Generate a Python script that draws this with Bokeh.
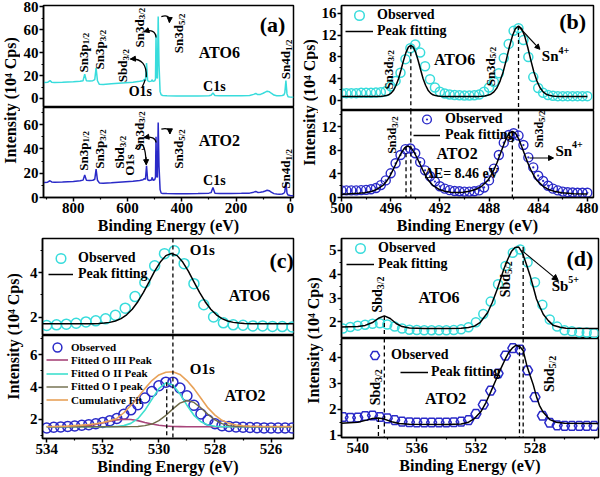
from math import pi
from bokeh.plotting import figure
from bokeh.layouts import row, column
from bokeh.models import Range1d, FixedTicker, Label, Legend, LegendItem, Arrow, NormalHead
from bokeh.core.properties import value
from bokeh.embed import file_html
from bokeh.resources import INLINE

# ================= DATA =================
# (a) survey spectra
survey_E = [908, 895, 886, 880, 870, 840, 800, 775, 764, 758, 752, 740, 728, 721, 716, 711, 704, 690,
            660, 620, 580, 555, 543, 538, 534, 530, 526, 520, 512, 509, 506, 500, 497, 495, 493, 490,
            487, 484, 480, 476, 470, 455, 420, 380, 340, 300, 292, 285, 278, 260, 220, 180, 150, 135,
            127, 120, 110, 100, 92, 85, 78, 70, 60, 50, 40, 30, 24, 20, 16, 12, 8, 0, -12]
survey_ATO6 = [14.0, 14.2, 15.6, 14.3, 14.0, 14.2, 14.6, 15.0, 15.6, 21.2, 15.6, 15.4, 15.6, 16.5, 26.8, 15.5, 12.4, 12.2,
               12.8, 13.6, 14.3, 15.0, 15.6, 16.8, 15.8, 31.0, 15.6, 14.8, 15.2, 16.4, 15.0, 15.4, 17.0, 56.0, 20.0, 17.5,
               71.6, 30.0, 6.0, 3.2, 2.6, 2.4, 2.2, 2.2, 2.2, 2.5, 2.8, 4.8, 2.6, 2.3, 2.3, 2.4, 2.6, 3.6,
               4.4, 3.4, 3.6, 4.6, 5.6, 6.4, 6.0, 4.6, 3.0, 2.4, 2.3, 2.6, 3.0, 5.0, 15.6, 4.0, 1.6, 1.2, 1.0]
survey_ATO2 = [12.4, 12.6, 13.8, 12.8, 12.6, 12.8, 13.2, 13.8, 14.3, 18.6, 14.3, 14.0, 14.2, 15.0, 23.4, 14.2, 12.0, 11.8,
               12.1, 12.7, 13.3, 14.0, 14.6, 15.6, 15.0, 26.0, 14.6, 14.0, 14.4, 16.6, 14.2, 14.6, 16.6, 50.0, 18.0, 16.5,
               61.7, 26.0, 6.5, 3.6, 3.3, 3.2, 3.1, 3.1, 3.2, 3.6, 4.0, 8.2, 3.6, 3.3, 3.3, 3.4, 3.6, 4.4,
               5.0, 4.2, 4.3, 4.8, 5.4, 6.0, 5.6, 4.4, 3.2, 2.8, 2.7, 2.9, 3.4, 4.6, 12.9, 3.6, 2.0, 1.6, 1.4]

# (b) Sn 3d
sn3d_E = [500.0, 499.6, 499.2, 498.8, 498.4, 498.0, 497.6, 497.2, 496.8, 496.4, 496.0, 495.6, 495.2, 494.8,
          494.4, 494.0, 493.6, 493.2, 492.8, 492.4, 492.0, 491.6, 491.2, 490.8, 490.4, 490.0, 489.6, 489.2,
          488.8, 488.4, 488.0, 487.6, 487.2, 486.8, 486.4, 486.0, 485.6, 485.2, 484.8, 484.4, 484.0, 483.6,
          483.2, 482.8, 482.4, 482.0, 481.6, 481.2, 480.8, 480.4, 480.0]
sn3d_obs_ATO6 = [1.35, 1.35, 1.35, 1.35, 1.4, 1.4, 1.4, 1.45, 1.5, 1.7, 2.6, 3.6, 5.1, 7.6,
                 9.6, 10.3, 8.8, 6.3, 3.9, 2.4, 1.6, 1.3, 1.1, 1.0, 0.95, 0.9, 0.9, 0.95,
                 1.1, 1.6, 2.4, 3.4, 5.0, 7.8, 10.4, 12.8, 13.3, 11.1, 8.0, 4.3, 2.3, 1.4,
                 1.0, 0.85, 0.8, 0.8, 0.8, 0.8, 0.8, 0.8, 0.8]
sn3d_obs_ATO2 = [1.2, 1.2, 1.2, 1.2, 1.25, 1.3, 1.4, 1.6, 2.1, 2.9, 4.1, 5.8, 7.2, 8.2,
                 8.3, 7.5, 6.0, 4.6, 3.6, 2.7, 1.9, 1.5, 1.25, 1.1, 1.05, 1.0, 1.0, 1.05,
                 1.2, 1.7, 2.9, 4.9, 7.2, 9.3, 10.6, 10.9, 10.5, 8.9, 6.8, 5.1, 3.7, 2.8,
                 2.0, 1.5, 1.2, 1.0, 0.9, 0.85, 0.8, 0.8, 0.8]
sn3d_fit_ATO6_E = [500.0, 497.0, 496.76, 496.56, 496.36, 496.16, 495.96, 495.76, 495.56, 495.36, 495.16, 494.96,
                   494.76, 494.56, 494.36, 494.16, 493.96, 493.76, 493.56, 493.36, 493.16, 492.96, 492.76, 492.56,
                   492.36, 492.16, 491.96, 491.76,
                   488.85, 488.6, 488.35, 488.1, 487.85, 487.6, 487.35, 487.1, 486.85, 486.6, 486.35, 486.1,
                   485.85, 485.6, 485.35, 485.1, 484.85, 484.6, 484.35, 484.1, 483.85, 483.6, 483.35, 483.1,
                   482.85, 482.6, 482.35, 480.0]
sn3d_fit_ATO6 = [0.75, 0.75, 0.78, 0.82, 0.9, 1.05, 1.35, 1.9, 2.8, 4.0, 5.6, 7.3,
                 8.8, 9.8, 10.15, 9.8, 8.8, 7.3, 5.6, 4.0, 2.8, 1.9, 1.35, 1.05,
                 0.9, 0.82, 0.78, 0.75,
                 0.75, 0.79, 0.84, 0.96, 1.16, 1.58, 2.33, 3.57, 5.23, 7.43, 9.78, 11.84,
                 13.22, 13.7, 13.22, 11.84, 9.78, 7.43, 5.23, 3.57, 2.33, 1.58, 1.16, 0.96,
                 0.84, 0.79, 0.75, 0.75]
sn3d_fit_ATO2_E = [500.0, 499.6, 498.6, 498.1, 497.6, 497.1, 496.6, 496.35, 496.1, 495.85, 495.6, 495.35,
                   495.1, 494.85, 494.6, 494.35, 494.1, 493.85, 493.6, 493.35, 493.1, 492.85, 492.6, 492.1,
                   491.6, 491.1, 490.6, 490.1, 489.6, 489.1, 488.6, 488.1, 487.85, 487.6, 487.35, 487.1,
                   486.85, 486.6, 486.35, 486.1, 485.85, 485.6, 485.35, 485.1, 484.85, 484.6, 484.35, 484.1,
                   483.6, 483.1, 482.6, 482.1, 481.1, 480.0]
sn3d_fit_ATO2 = [0.55, 0.6, 0.7, 0.8, 1.0, 1.4, 2.1, 2.7, 3.5, 4.5, 5.6, 6.7,
                 7.7, 8.45, 8.7, 8.45, 7.7, 6.7, 5.6, 4.5, 3.5, 2.7, 2.1, 1.4,
                 1.05, 0.9, 0.85, 0.9, 1.05, 1.35, 1.9, 2.9, 3.7, 4.7, 5.9, 7.3,
                 8.7, 10.0, 10.9, 11.2, 10.9, 10.0, 8.7, 7.3, 5.9, 4.7, 3.7, 2.9,
                 1.9, 1.3, 1.0, 0.8, 0.65, 0.6]
sn3d_peak_E_ATO6 = [494.36, 485.6]
sn3d_peak_I_ATO6 = [10.15, 13.7]
sn3d_peak_E_ATO2 = [494.75, 486.1]
sn3d_peak_I_ATO2 = [8.7, 11.2]

# (c) O 1s
o1s_E_ATO6 = [534.0, 533.65, 533.3, 532.95, 532.6, 532.25, 531.9, 531.55, 531.2, 530.85, 530.5, 530.15, 529.8,
              529.45, 529.1, 528.75, 528.4, 528.05, 527.7, 527.35, 527.0, 526.65, 526.3, 525.95, 525.6, 525.25]
o1s_obs_ATO6 = [1.62, 1.65, 1.68, 1.72, 1.78, 1.83, 1.92, 2.08, 2.4, 2.92, 3.55, 4.3, 4.85,
                4.98, 4.4, 3.5, 2.55, 2.0, 1.74, 1.65, 1.63, 1.6, 1.6, 1.58, 1.57, 1.55]
o1s_fit_ATO6_E = [534.15, 532.35, 532.15, 531.95, 531.75, 531.55, 531.35, 531.15, 530.95, 530.75, 530.55,
                  530.35, 530.15, 529.95, 529.75, 529.55, 529.35, 529.15, 528.95, 528.75, 528.55, 528.35,
                  528.15, 527.95, 527.75, 527.55, 527.35, 527.15, 526.95, 526.75, 525.2]
o1s_fit_ATO6 = [1.70, 1.70, 1.71, 1.73, 1.76, 1.82, 1.93, 2.10, 2.35, 2.69, 3.11,
                3.58, 4.06, 4.47, 4.76, 4.86, 4.76, 4.47, 4.06, 3.58, 3.11, 2.69,
                2.35, 2.10, 1.93, 1.82, 1.76, 1.73, 1.71, 1.70, 1.70]
o1s_E_ATO2 = [534.0, 533.75, 533.5, 533.25, 533.0, 532.75, 532.5, 532.25, 532.0, 531.75, 531.5, 531.25,
              531.0, 530.75, 530.5, 530.25, 530.0, 529.75, 529.5, 529.25, 529.0, 528.75, 528.5, 528.25,
              528.0, 527.75, 527.5, 527.25, 527.0, 526.75, 526.5, 526.25, 526.0, 525.75, 525.5, 525.25]
o1s_obs_ATO2 = [1.45, 1.5, 1.52, 1.55, 1.58, 1.62, 1.66, 1.72, 1.8, 1.9, 2.04, 2.3,
                2.58, 2.9, 3.32, 3.72, 4.08, 4.3, 4.3, 3.94, 3.45, 2.86, 2.32, 1.95,
                1.72, 1.6, 1.55, 1.52, 1.5, 1.48, 1.47, 1.46, 1.46, 1.45, 1.45, 1.45]
o1s_OIII = [1.53, 1.53, 1.53, 1.535, 1.545, 1.565, 1.61, 1.68, 1.77, 1.87, 1.96, 2.0,
            1.98, 1.91, 1.80, 1.70, 1.62, 1.575, 1.55, 1.54, 1.53, 1.53, 1.53, 1.53,
            1.53, 1.53, 1.53, 1.53, 1.53, 1.53, 1.53, 1.53, 1.53, 1.53, 1.53, 1.53]
o1s_OII = [1.53, 1.53, 1.53, 1.53, 1.53, 1.53, 1.53, 1.53, 1.53, 1.535, 1.55, 1.6,
           1.74, 2.03, 2.55, 3.23, 3.9, 4.26, 4.13, 3.58, 2.87, 2.24, 1.84, 1.64,
           1.565, 1.54, 1.53, 1.53, 1.53, 1.53, 1.53, 1.53, 1.53, 1.53, 1.53, 1.53]
o1s_OI = [1.53, 1.53, 1.53, 1.53, 1.53, 1.53, 1.53, 1.53, 1.53, 1.53, 1.53, 1.53,
          1.535, 1.55, 1.6, 1.7, 1.91, 2.24, 2.64, 3.0, 3.16, 3.04, 2.7, 2.3,
          1.95, 1.72, 1.6, 1.55, 1.535, 1.53, 1.53, 1.53, 1.53, 1.53, 1.53, 1.53]
o1s_cumulative = [1.55, 1.55, 1.56, 1.57, 1.6, 1.63, 1.67, 1.72, 1.79, 1.9, 2.05, 2.4,
                  2.85, 3.35, 3.9, 4.4, 4.75, 4.92, 4.95, 4.78, 4.4, 3.9, 3.3, 2.7,
                  2.25, 1.93, 1.74, 1.64, 1.59, 1.57, 1.56, 1.55, 1.55, 1.55, 1.55, 1.55]
o1s_peak_E_ATO6 = [529.5]
o1s_peak_E_ATO2 = [529.72]
o1s_peak_I_ATO2 = [4.3]

# (d) Sb 3d
sb_E = [541.0, 540.5, 540.0, 539.5, 539.0, 538.5, 538.0, 537.5, 537.0, 536.5, 536.0, 535.5, 535.0, 534.5,
        534.0, 533.5, 533.0, 532.5, 532.0, 531.5, 531.0, 530.5, 530.0, 529.5, 529.0, 528.5, 528.0, 527.5,
        527.0, 526.5, 526.0, 525.5, 525.0, 524.5, 524.0]
sb_obs_ATO6 = [1.72, 1.78, 1.84, 1.88, 1.92, 1.94, 1.89, 1.8, 1.72, 1.67, 1.66, 1.65, 1.65, 1.65,
               1.65, 1.66, 1.69, 1.77, 1.98, 2.33, 2.85, 3.58, 4.35, 4.9, 5.04, 4.5, 3.66, 2.72,
               2.1, 1.8, 1.65, 1.6, 1.56, 1.55, 1.52]
sb_obs_ATO2 = [1.7, 1.67, 1.68, 1.74, 1.76, 1.7, 1.65, 1.58, 1.52, 1.5, 1.49, 1.49, 1.49, 1.49,
               1.49, 1.5, 1.52, 1.58, 1.82, 2.18, 2.72, 3.38, 4.07, 4.36, 4.3, 3.5, 2.47, 1.75,
               1.48, 1.38, 1.36, 1.36, 1.36, 1.36, 1.36]
sb_fit_ATO6_E = [541.1, 540.0, 539.5, 539.0, 538.6, 538.2, 537.8, 537.4, 537.0, 536.5, 535.5, 534.0, 533.0,
                 532.5, 532.1, 531.7, 531.2, 530.9, 530.55, 530.3, 530.1, 529.85, 529.6, 529.35, 529.1,
                 528.85, 528.6, 528.33, 528.1, 527.9, 527.65, 527.44, 527.1, 526.78, 526.3, 525.9, 523.7]
sb_fit_ATO6 = [1.78, 1.8, 1.85, 1.97, 2.15, 2.25, 2.14, 1.93, 1.8, 1.74, 1.72, 1.72, 1.73,
               1.76, 1.82, 1.98, 2.39, 2.8, 3.38, 3.85, 4.23, 4.62, 4.95, 5.12, 5.14,
               4.9, 4.45, 3.94, 3.42, 2.96, 2.6, 2.32, 2.05, 1.86, 1.77, 1.73, 1.72]
sb_fit_ATO2_E = [541.1, 540.0, 539.4, 539.0, 538.6, 538.2, 537.7, 537.2, 536.5, 534.0, 533.0, 532.5, 532.1,
                 531.67, 531.33, 531.0, 530.67, 530.33, 530.0, 529.78, 529.5, 529.27, 529.0, 528.8, 528.56,
                 528.33, 528.12, 527.88, 527.7, 527.44, 527.0, 526.56, 526.0, 523.7]
sb_fit_ATO2 = [1.46, 1.5, 1.58, 1.64, 1.66, 1.62, 1.52, 1.45, 1.42, 1.41, 1.43, 1.5, 1.64,
               1.9, 2.25, 2.66, 3.1, 3.55, 3.95, 4.19, 4.38, 4.47, 4.4, 4.26, 3.7,
               3.3, 2.95, 2.45, 2.15, 1.88, 1.6, 1.5, 1.46, 1.45]
sb_peak_E_ATO6 = [538.2, 528.8]
sb_peak_I_ATO6 = [2.25, 5.14]
sb_peak_E_ATO2 = [538.6, 529.05]
sb_peak_I_ATO2 = [1.66, 4.47]

# ================= STYLE / HELPERS =================
SERIF = "Liberation Serif"
CYAN = "#38DCDC"
BLUE = "#2A2AC8"
PURPLE = "#A8457A"
TEAL = "#3FE0CF"
OLIVE = "#6E6A48"
ORANGE = "#E8A259"
YTITLE = "Intensity (10\u2074 Cps)"
CW = {'S': .556, 'n': .556, 'b': .556, 'd': .556, 'p': .556, '/': .278, '+': .570}


def tw(s, size):
    return sum(CW.get(c, .5) for c in s) * size


def panel_fig(w, h, xr, yr, bl, br, bt, bb, xaxis, yticks, yminor, xticks=None, xminor=None):
    p = figure(width=w, height=h, x_range=Range1d(*xr), y_range=Range1d(*yr),
               output_backend="svg", toolbar_location=None, title=None,
               min_border_left=bl, min_border_right=br, min_border_top=bt, min_border_bottom=bb,
               x_axis_location="below" if xaxis else None, y_axis_location="left",
               background_fill_color="white", border_fill_color="white",
               outline_line_color="black", outline_line_width=1.5)
    p.grid.visible = False
    axes = list(p.yaxis) + (list(p.xaxis) if xaxis else [])
    for ax in axes:
        ax.axis_line_width = 1.5
        ax.axis_line_color = "black"
        ax.major_tick_line_width = 1.5
        ax.major_tick_out = 4
        ax.major_tick_in = 0
        ax.minor_tick_line_width = 1.2
        ax.minor_tick_out = 2
        ax.minor_tick_in = 0
        ax.major_label_text_font = SERIF
        ax.major_label_text_font_style = "bold"
        ax.major_label_text_font_size = "15px"
        ax.major_label_text_color = "black"
        ax.major_label_standoff = 1
    p.yaxis[0].ticker = FixedTicker(ticks=yticks, minor_ticks=yminor)
    if xaxis:
        xa = p.xaxis[0]
        xa.ticker = FixedTicker(ticks=xticks, minor_ticks=xminor)
        xa.axis_label = "Binding Energy (eV)"
        xa.axis_label_text_font = SERIF
        xa.axis_label_text_font_style = "bold"
        xa.axis_label_text_font_size = "16px"
        xa.axis_label_text_color = "black"
        xa.axis_label_standoff = 1
    return p


def title_fig(w, h, yc):
    t = figure(width=w, height=h, x_range=Range1d(0, w), y_range=Range1d(h, 0),
               output_backend="svg", toolbar_location=None, title=None, min_border=0,
               x_axis_location=None, y_axis_location=None, outline_line_color=None,
               background_fill_color="white", border_fill_color="white")
    t.grid.visible = False
    t.add_layout(Label(x=w / 2, y=yc, text=YTITLE, angle=pi / 2, text_align="center",
                       text_baseline="middle", text_font=SERIF, text_font_style="bold",
                       text_font_size="16px", text_color="black"))
    return t


def txt(p, x, y, s, size=15, align="center", angle=0.0, xo=0, yo=0):
    p.add_layout(Label(x=x, y=y, text=s, angle=angle, x_offset=xo, y_offset=yo,
                       text_align=align, text_baseline="middle", text_font=SERIF,
                       text_font_style="bold", text_font_size=f"{size}px", text_color="black"))


def vlab(p, x, y, main, sub, size=13, sub_size=9):
    txt(p, x, y, main, size, align="left", angle=pi / 2)
    txt(p, x, y, sub, sub_size, align="left", angle=pi / 2, xo=3, yo=tw(main, size))


def suplab(p, x, y, main, sup, size=15, sup_size=10):
    txt(p, x, y, main, size, align="left")
    txt(p, x, y, sup, sup_size, align="left", xo=tw(main, size), yo=6)


def arrow(p, xs, ys, xe, ye, size=6):
    p.add_layout(Arrow(x_start=xs, y_start=ys, x_end=xe, y_end=ye, line_width=1.1, line_color="black",
                       end=NormalHead(size=size, fill_color="black", line_color="black", line_width=1)))


def curve(p, s, c, e, head=True):
    p.quadratic(x0=[s[0]], y0=[s[1]], x1=[e[0]], y1=[e[1]], cx=[c[0]], cy=[c[1]],
                line_color="black", line_width=1.3)
    if head:
        xs = e[0] - 0.25 * (e[0] - c[0])
        ys = e[1] - 0.25 * (e[1] - c[1])
        arrow(p, xs, ys, e[0], e[1], size=5)


def dashes(p, x, y0, y1):
    p.segment(x0=x, y0=y0, x1=x, y1=y1, line_color="black", line_width=1.3, line_dash="4 3")


def leg(p, label, r, left, row_y, frame_bottom, glyph_w, h=24, size=14, standoff=4):
    # one legend entry; location = bottom-left corner in px from the frame's bottom-left
    lg = Legend(items=[LegendItem(label=value(label), renderers=[r])],
                location=(left, frame_bottom - (row_y + h / 2)), orientation="vertical",
                padding=0, margin=0, spacing=0, glyph_width=glyph_w, glyph_height=h, label_height=h,
                label_standoff=standoff, label_text_font=SERIF, label_text_font_style="bold",
                label_text_font_size=f"{size}px", label_text_color="black",
                background_fill_alpha=0, border_line_alpha=0)
    p.add_layout(lg)


# ================= PANEL (a) =================
ax_r = (910, -12)
a_top = panel_fig(280, 107, ax_r, (-7.87, 81.3), 20, 7, 5, 0, False, [0, 20, 40, 60, 80], [10, 30, 50, 70])
a_bot = panel_fig(280, 129, ax_r, (0, 74.1), 20, 7, 0, 39, True, [0, 20, 40, 60], [10, 30, 50, 70],
                  [800, 600, 400, 200, 0], [900, 700, 500, 300, 100])
a_top.line(survey_E, survey_ATO6, line_color=CYAN, line_width=1.5)
a_bot.line(survey_E, survey_ATO2, line_color=BLUE, line_width=1.5)

txt(a_top, 65, 64.8, "(a)", 22)
txt(a_top, 261.6, 40.4, "ATO6", 16)
vlab(a_top, 764.3, 22.7, "Sn3p", "1/2")
vlab(a_top, 702.3, 25.3, "Sn3p", "3/2")
vlab(a_top, 618.6, 14.3, "Sbd", "3/2")
vlab(a_top, 556.6, 44.6, "Sn3d", "3/2")
vlab(a_top, 411, 39.6, "Sn3d", "5/2")
vlab(a_top, 17.5, 16.8, "Sn4d", "1/2")
txt(a_top, 553, 5.9, "O1s", 14)
txt(a_top, 279.8, 10.9, "C1s", 14)
curve(a_top, (531, 18.5), (527.5, 35.4), (589.4, 34.5))
curve(a_top, (494.7, 53.3), (498.4, 61.5), (539.5, 58.4))
curve(a_top, (475.4, 71.6), (443.7, 74.1), (445.5, 66.5))
curve(a_top, (546, 10), (538, 14), (535, 16.5), head=False)

txt(a_bot, 261.6, 46.7, "ATO2", 16)
vlab(a_bot, 764.3, 22, "Sn3p", "1/2")
vlab(a_bot, 702.3, 23.6, "Sn3p", "3/2")
vlab(a_bot, 629.5, 23.6, "Sbd", "3/2")
txt(a_bot, 593, 17.9, "O1s", 13, align="left", angle=pi / 2)
vlab(a_bot, 556.6, 38.4, "Sn3d", "3/2")
vlab(a_bot, 411, 23.6, "Sn3d", "5/2")
txt(a_bot, 280, 13.7, "C1s", 14)
vlab(a_bot, 17.5, 7.2, "Sn4d", "1/2")
curve(a_bot, (571, 40), (535, 52), (531, 27))
curve(a_bot, (494.7, 45.3), (498.4, 50.8), (539.5, 49.4))
curve(a_bot, (475.4, 56.3), (443.7, 58.2), (443.7, 52.4))

panel_a = row(title_fig(20, 236, 100), column(a_top, a_bot))

# ================= PANEL (b) =================
bx_r = (500, 479.5)
b_top_y = (-1.84, 17.46)
b_bot_y = (0, 14.75)
b_top = panel_fig(282, 110, bx_r, b_top_y, 20, 7, 5, 0, False, [0, 4, 8, 12, 16], [2, 6, 10, 14])
b_bot = panel_fig(282, 126, bx_r, b_bot_y, 20, 7, 0, 36, True, [0, 4, 8, 12], [2, 6, 10, 14],
                  [500, 496, 492, 488, 484, 480], [498, 494, 490, 486, 482])
rb6 = b_top.scatter(sn3d_E, sn3d_obs_ATO6, marker="circle", size=9, fill_color=None,
                    line_color=CYAN, line_width=1.5)
fb6 = b_top.line(sn3d_fit_ATO6_E, sn3d_fit_ATO6, line_color="black", line_width=1.5)
dashes(b_top, sn3d_peak_E_ATO6, sn3d_peak_I_ATO6, [b_top_y[0]] * len(sn3d_peak_E_ATO6))
rb2 = b_bot.scatter(sn3d_E, sn3d_obs_ATO2, marker="circle_dot", size=9, fill_color=None,
                    line_color=BLUE, line_width=1.4)
fb2 = b_bot.line(sn3d_fit_ATO2_E, sn3d_fit_ATO2, line_color="black", line_width=1.5)
dashes(b_bot, sn3d_peak_E_ATO6, [b_bot_y[1]] * 2, [0, sn3d_peak_I_ATO2[1]])
dashes(b_bot, sn3d_peak_E_ATO2, sn3d_peak_I_ATO2, [0] * len(sn3d_peak_E_ATO2))

leg(b_top, "Observed", rb6, 4, 15, 110, 28)
leg(b_top, "Peak fitting", fb6, 4, 31, 110, 28)
leg(b_bot, "Observed", rb2, 72, 122, 200, 27, h=22, standoff=5)
leg(b_bot, "Peak fitting", fb2, 72, 138, 200, 27, h=22, standoff=5)
txt(b_top, 481.2, 14.5, "(b)", 22)
txt(b_top, 490.8, 7.5, "ATO6", 16)
vlab(b_top, 496.2, 2.0, "Sn3d", "3/2")
vlab(b_top, 487.9, 2.6, "Sn3d", "5/2")
suplab(b_top, 483.7, 8.1, "Sn", "4+")
arrow(b_top, 485.6, 13.6, 483.86, 9.4, size=5)
txt(b_bot, 490.6, 7.5, "ATO2", 16)
txt(b_bot, 490.2, 4.1, "\u0394E= 8.46 eV", 14)
vlab(b_bot, 495.9, 7.4, "Sn3d", "3/2", 12, 9)
vlab(b_bot, 483.95, 8.4, "Sn3d", "5/2", 12, 9)
suplab(b_bot, 482.6, 7.9, "Sn", "4+")
arrow(b_bot, 484.7, 6.7, 482.75, 6.7, size=5)

panel_b = row(title_fig(18, 236, 102), column(b_top, b_bot))

# ================= PANEL (c) =================
cx_r = (534.15, 525.2)
c_top_y = (1.17, 5.53)
c_bot_y = (0.8, 7.2)
c_top = panel_fig(274, 99, cx_r, c_top_y, 13, 7, 2, 0, False, [2, 4], [3, 5])
c_bot = panel_fig(274, 142, cx_r, c_bot_y, 13, 7, 0, 37, True, [2, 4, 6], [1, 3, 5, 7],
                  [534, 532, 530, 528, 526], [533, 531, 529, 527])
rc6 = c_top.scatter(o1s_E_ATO6, o1s_obs_ATO6, marker="circle", size=10, fill_color=None,
                    line_color=CYAN, line_width=1.5)
fc6 = c_top.line(o1s_fit_ATO6_E, o1s_fit_ATO6, line_color="black", line_width=1.5)
dashes(c_top, o1s_peak_E_ATO6, [c_top_y[1]], [c_top_y[0]])
rc2 = c_bot.scatter(o1s_E_ATO2, o1s_obs_ATO2, marker="circle", size=10, fill_color=None,
                    line_color=BLUE, line_width=1.5)
l3 = c_bot.line(o1s_E_ATO2, o1s_OIII, line_color=PURPLE, line_width=1.6)
l2 = c_bot.line(o1s_E_ATO2, o1s_OII, line_color=TEAL, line_width=1.6)
l1 = c_bot.line(o1s_E_ATO2, o1s_OI, line_color=OLIVE, line_width=1.4)
lc = c_bot.line(o1s_E_ATO2, o1s_cumulative, line_color=ORANGE, line_width=1.6)
dashes(c_bot, o1s_peak_E_ATO6, [c_bot_y[1]], [c_bot_y[0]])
dashes(c_bot, o1s_peak_E_ATO2, o1s_peak_I_ATO2, [c_bot_y[0]])

leg(c_top, "Observed", rc6, 6, 258.3, 335, 25, standoff=5)
leg(c_top, "Peak fitting", fc6, 6, 274, 335, 25, standoff=5)
leg(c_bot, "Observed", rc2, 4, 348.5, 440, 22, h=22, size=11, standoff=3)
leg(c_bot, "Fitted O III Peak", l3, 4, 361.8, 440, 22, h=13, size=11, standoff=3)
leg(c_bot, "Fitted O II Peak", l2, 4, 375.1, 440, 22, h=13, size=11, standoff=3)
leg(c_bot, "Fitted O I peak", l1, 4, 388.4, 440, 22, h=13, size=11, standoff=3)
leg(c_bot, "Cumulative Fit", lc, 4, 401.7, 440, 22, h=13, size=11, standoff=3)
txt(c_top, 528.45, 5.0, "O1s", 15)
txt(c_top, 525.62, 4.55, "(c)", 22)
txt(c_top, 526.77, 2.98, "ATO6", 16)
txt(c_bot, 528.45, 5.09, "O1s", 15)
txt(c_bot, 526.93, 3.46, "ATO2", 16)

panel_c = row(title_fig(26, 241, 100), column(c_top, c_bot))

# ================= PANEL (d) =================
dx_r = (541.1, 523.7)
d_top_y = (1.3, 5.5)
d_bot_y = (0.91, 4.73)
d_top = panel_fig(275, 102, dx_r, d_top_y, 13, 2, 2, 0, False, [2, 3, 4, 5], [2.5, 3.5, 4.5])
d_bot = panel_fig(275, 139, dx_r, d_bot_y, 13, 2, 0, 40, True, [1, 2, 3, 4], [1.5, 2.5, 3.5, 4.5],
                  [540, 536, 532, 528], [538, 534, 530, 526, 524])
rd6 = d_top.scatter(sb_E, sb_obs_ATO6, marker="circle", size=9, fill_color=None,
                    line_color=CYAN, line_width=1.5)
fd6 = d_top.line(sb_fit_ATO6_E, sb_fit_ATO6, line_color="black", line_width=1.5)
dashes(d_top, sb_peak_E_ATO6, sb_peak_I_ATO6, [d_top_y[0]] * len(sb_peak_E_ATO6))
rd2 = d_bot.scatter(sb_E, sb_obs_ATO2, marker="hex", size=10, fill_color=None,
                    line_color=BLUE, line_width=1.5)
fd2 = d_bot.line(sb_fit_ATO2_E, sb_fit_ATO2, line_color="black", line_width=1.5)
dashes(d_bot, sb_peak_E_ATO6, [d_bot_y[1]] * 2, [d_bot_y[0]] * 2)
dashes(d_bot, sb_peak_E_ATO2, sb_peak_I_ATO2, [d_bot_y[0]] * len(sb_peak_E_ATO2))

leg(d_top, "Observed", rd6, 5, 248.3, 338, 28)
leg(d_top, "Peak fitting", fd6, 5, 264.3, 338, 28)
leg(d_bot, "Observed", rd2, 22, 355, 437, 23, standoff=5)
leg(d_bot, "Peak fitting", fd2, 59, 371.7, 437, 28, standoff=3)
txt(d_top, 524.96, 4.65, "(d)", 22)
txt(d_top, 534.5, 3.03, "ATO6", 16)
vlab(d_top, 538.65, 2.39, "Sbd", "3/2", 14, 10)
vlab(d_top, 530.0, 3.03, "Sbd", "5/2", 14, 10)
suplab(d_top, 526.87, 3.52, "Sb", "5+")
arrow(d_top, 528.9, 5.0, 526.42, 3.73, size=6)
txt(d_bot, 534.05, 2.41, "ATO2", 16)
vlab(d_bot, 538.8, 2.15, "Sbd", "3/2", 14, 10)
vlab(d_bot, 527.0, 2.67, "Sbd", "5/2", 14, 10)

panel_d = row(title_fig(25, 241, 104), column(d_top, d_bot))

layout = column(row(panel_a, panel_b), row(panel_c, panel_d))

open("out.html", "w").write(file_html(layout, INLINE))
